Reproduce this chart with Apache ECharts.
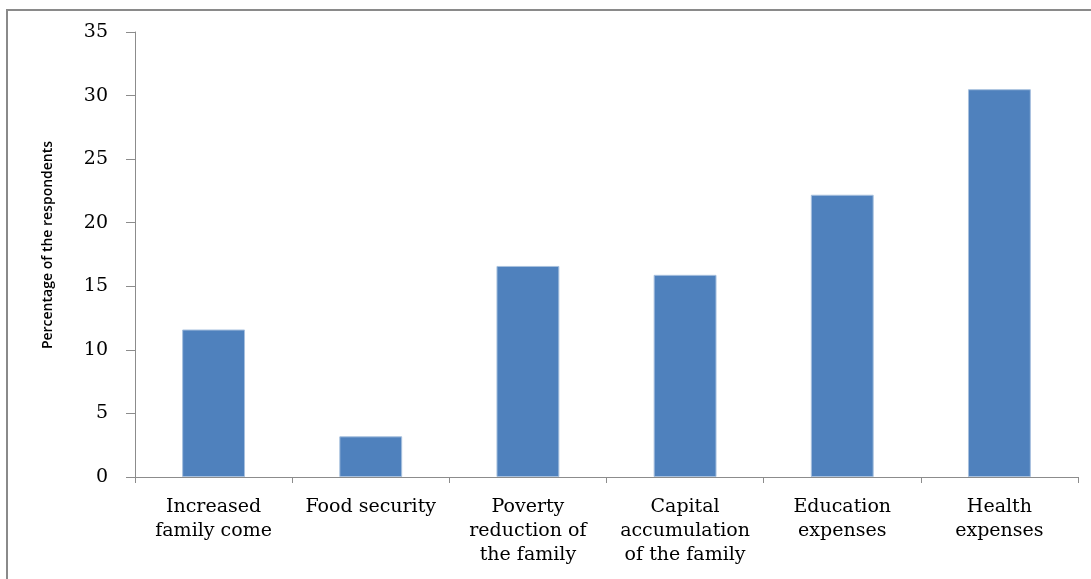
<!DOCTYPE html>
<html>
<head>
<meta charset="utf-8">
<script src="https://cdn.jsdelivr.net/npm/echarts@6/dist/echarts.min.js"></script>
<style>
  html, body { margin: 0; padding: 0; background: #fff; }
  #chart { width: 1091px; height: 579px; }
</style>
</head>
<body>
<div id="chart"></div>
<script>
// Reasons given by respondents, share in percent
const categories = [
  'Increased\nfamily come',
  'Food security',
  'Poverty\nreduction of\nthe family',
  'Capital\naccumulation\nof the family',
  'Education\nexpenses',
  'Health\nexpenses'
];
const percentages = [11.6, 3.2, 16.6, 15.9, 22.2, 30.5];
const yTicks = { min: 0, max: 35, interval: 5 };
const yAxisTitle = 'Percentage of the respondents';

const chart = echarts.init(document.getElementById('chart'), null, { renderer: 'canvas' });

const axisGray = '#8c8c8c';
const serif = '"DejaVu Serif", "Liberation Serif", serif';

chart.setOption({
  backgroundColor: '#ffffff',
  animation: false,
  graphic: [
    {
      // outer frame of the chart area (runs off the right and bottom edges)
      type: 'rect',
      shape: { x: 7, y: 10, width: 1100, height: 600 },
      style: { fill: 'none', stroke: '#8a8a8a', lineWidth: 2 },
      silent: true
    },
    {
      type: 'text',
      rotation: Math.PI / 2,
      x: 48,
      y: 245,
      style: {
        text: yAxisTitle,
        font: '600 14px "Open Sans", sans-serif',
        fill: '#000',
        align: 'center',
        verticalAlign: 'middle'
      }
    }
  ],
  grid: { left: 135, right: 13, top: 32, bottom: 102, containLabel: false },
  xAxis: {
    type: 'category',
    data: categories,
    boundaryGap: true,
    axisLine: { show: true, lineStyle: { color: axisGray, width: 1 } },
    axisTick: { show: true, length: 6, lineStyle: { color: axisGray } },
    axisLabel: {
      interval: 0,
      margin: 18,
      color: '#000',
      fontFamily: serif,
      fontSize: 19,
      lineHeight: 24,
      align: 'center',
      verticalAlign: 'top'
    },
    splitLine: { show: false }
  },
  yAxis: {
    type: 'value',
    min: yTicks.min,
    max: yTicks.max,
    interval: yTicks.interval,
    axisLine: { show: true, lineStyle: { color: axisGray, width: 1 } },
    axisTick: { show: true, length: 9, lineStyle: { color: axisGray } },
    axisLabel: {
      margin: 27,
      color: '#000',
      fontFamily: serif,
      fontSize: 19
    },
    splitLine: { show: false }
  },
  series: [{
    type: 'bar',
    data: percentages,
    barCategoryGap: '60%',
    itemStyle: {
      color: '#4f81bd',
      borderColor: '#a7c0de',
      borderWidth: 1
    }
  }]
});
</script>
</body>
</html>
